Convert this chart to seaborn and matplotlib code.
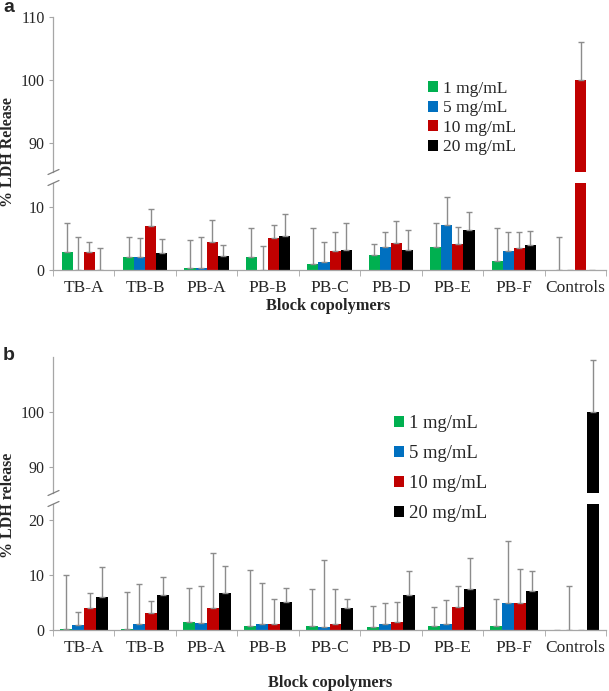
import numpy as np
import pandas as pd
import matplotlib
matplotlib.use("Agg")
import matplotlib.pyplot as plt
from matplotlib.lines import Line2D
import seaborn as sns

categories = ['TB-A', 'TB-B', 'PB-A', 'PB-B', 'PB-C', 'PB-D', 'PB-E', 'PB-F', 'Controls']
concentrations = ['1 mg/mL', '5 mg/mL', '10 mg/mL', '20 mg/mL']
colors = ['#00B050', '#0070C0', '#C00000', '#000000']

# Panel a: means and SD (upward error)
a_mean_1 = [2.8, 2.0, 0.25, 2.05, 0.95, 2.4, 3.7, 1.5, 0.0]
a_sd_1 = [4.7, 3.3, 4.45, 4.65, 5.65, 1.7, 3.8, 5.1, 5.3]
a_mean_5 = [0.05, 2.0, 0.3, 0.05, 1.3, 3.7, 7.2, 3.05, 0.0]
a_sd_5 = [5.25, 3.0, 5.0, 3.75, 3.2, 2.4, 4.4, 2.95, np.nan]
a_mean_10 = [2.8, 7.0, 4.4, 5.05, 3.05, 4.25, 4.05, 3.5, 100.0]
a_sd_10 = [1.7, 2.7, 3.6, 2.15, 3.05, 3.45, 2.85, 2.5, 6.1]
a_mean_20 = [0.05, 2.7, 2.2, 5.4, 3.25, 3.25, 6.4, 3.9, 0.0]
a_sd_20 = [3.45, 2.2, 1.7, 3.5, 4.15, 3.05, 2.8, 2.3, np.nan]

# Panel b
b_mean_1 = [0.2, 0.2, 1.45, 0.65, 0.75, 0.55, 0.75, 0.75, 0.0]
b_sd_1 = [9.8, 6.8, 6.15, 10.35, 6.7, 3.75, 3.4, 4.95, np.nan]
b_mean_5 = [0.85, 1.15, 1.3, 1.15, 0.5, 1.15, 1.05, 4.9, 0.0]
b_sd_5 = [2.35, 7.2, 6.75, 7.35, 12.2, 3.85, 4.45, 11.4, 8.0]
b_mean_10 = [4.0, 3.05, 3.95, 1.05, 1.05, 1.4, 4.15, 4.9, 0.0]
b_sd_10 = [2.8, 2.25, 10.05, 4.55, 6.5, 3.65, 3.85, 6.2, np.nan]
b_mean_20 = [6.0, 6.4, 6.7, 5.05, 3.95, 6.3, 7.45, 7.15, 100.0]
b_sd_20 = [5.5, 3.2, 5.0, 2.55, 1.75, 4.4, 5.65, 3.65, 9.4]


def make_df(means, sds):
    rows = []
    for conc, m, s in zip(concentrations, means, sds):
        for cat, mv, sv in zip(categories, m, s):
            rows.append({'category': cat, 'conc': conc, 'value': mv, 'sd': sv})
    return pd.DataFrame(rows)


df_a = make_df([a_mean_1, a_mean_5, a_mean_10, a_mean_20], [a_sd_1, a_sd_5, a_sd_10, a_sd_20])
df_b = make_df([b_mean_1, b_mean_5, b_mean_10, b_mean_20], [b_sd_1, b_sd_5, b_sd_10, b_sd_20])

sns.set_style('white')
plt.rcParams['font.family'] = ['Liberation Serif', 'DejaVu Serif']

W, H = 609, 691
fig = plt.figure(figsize=(W / 100, H / 100), dpi=100)


def axes_px(x0, x1, ytop, ybot):
    return fig.add_axes([x0 / W, 1 - ybot / H, (x1 - x0) / W, (ybot - ytop) / H])


GRAY = '#a6a6a6'
ERR = '#8c8c8c'


def draw(ax, df, width):
    sns.barplot(data=df, x='category', y='value', hue='conc', order=categories,
                hue_order=concentrations, palette=colors, width=width, errorbar=None,
                saturation=1, linewidth=0, legend=False, ax=ax)
    for cont, conc in zip(ax.containers[:4], concentrations):
        sub = df[df.conc == conc].set_index('category').loc[categories]
        xs = [p.get_x() + p.get_width() / 2 for p in cont.patches]
        ax.errorbar(xs, sub['value'].values, yerr=[np.zeros(len(xs)), sub['sd'].values],
                    fmt='none', ecolor=ERR, elinewidth=1, capsize=2, capthick=1)


def style_top(ax, ylim, yticks):
    ax.set_ylim(*ylim)
    ax.set_xlim(-0.5, 8.5)
    ax.set_yticks(yticks)
    ax.set_xticks([])
    ax.set_xlabel('')
    ax.set_ylabel('')
    for s in ['top', 'right', 'bottom']:
        ax.spines[s].set_visible(False)
    ax.spines['left'].set_color(GRAY)
    ax.spines['left'].set_linewidth(0.9)
    ax.tick_params(axis='y', left=True, length=3, color=GRAY, labelsize=11.5, pad=3)
    ax.set_facecolor('none')


def style_bot(ax, ylim, yticks):
    ax.set_ylim(*ylim)
    ax.set_xlim(-0.5, 8.5)
    ax.set_yticks(yticks)
    ax.set_xlabel('')
    ax.set_ylabel('')
    for s in ['top', 'right']:
        ax.spines[s].set_visible(False)
    for s in ['left', 'bottom']:
        ax.spines[s].set_color(GRAY)
        ax.spines[s].set_linewidth(0.9)
    ax.tick_params(axis='y', left=True, length=3, color=GRAY, labelsize=11.5, pad=3)
    ax.set_xticks(range(len(categories)))
    ax.set_xticklabels(categories)
    ax.set_xticks(np.arange(-0.5, 9, 1), minor=True)
    ax.tick_params(axis='x', which='major', length=0, labelsize=12.5, pad=7)
    ax.tick_params(axis='x', which='minor', bottom=True, length=4, color=GRAY)
    ax.set_facecolor('none')


def slash(ax, top):
    pos = ax.get_position()
    x0 = pos.x0
    y0 = pos.y1 if top else pos.y0
    fig.add_artist(Line2D([x0 - 5 / W, x0 + 6 / W], [y0 - 2.5 / H, y0 + 2.5 / H],
                          color='#808080', lw=0.9))


# Panel a
ax_at = axes_px(53, 606, 17, 172)
ax_ab = axes_px(53, 606, 183, 270)
draw(ax_at, df_a, 0.72)
draw(ax_ab, df_a, 0.72)
style_top(ax_at, (85.4, 110), [90, 100, 110])
style_bot(ax_ab, (0, 13.8), [0, 10])
slash(ax_at, False)
slash(ax_ab, True)
ax_at.legend(ax_at.containers[:4], concentrations, loc='center left',
             bbox_to_anchor=(428 / W, 1 - 118 / H), bbox_transform=fig.transFigure,
             frameon=False, fontsize=12.5, handlelength=0.6, handleheight=0.6,
             handletextpad=0.25, labelspacing=0.2, borderpad=0, borderaxespad=0)

# Panel b
ax_bt = axes_px(53, 606, 357, 493)
ax_bb = axes_px(53, 606, 504, 630)
draw(ax_bt, df_b, 0.78)
draw(ax_bb, df_b, 0.78)
style_top(ax_bt, (85.3, 110), [90, 100])
style_bot(ax_bb, (0, 23), [0, 10, 20])
slash(ax_bt, False)
slash(ax_bb, True)
ax_bt.legend(ax_bt.containers[:4], concentrations, loc='center left',
             bbox_to_anchor=(394 / W, 1 - 468.5 / H), bbox_transform=fig.transFigure,
             frameon=False, fontsize=13.4, handlelength=0.55, handleheight=0.55,
             handletextpad=0.25, labelspacing=0.7, borderpad=0, borderaxespad=0)

# Labels
fig.text(8 / W, 1 - 152.5 / H, '% LDH Release', rotation=90, ha='center', va='center',
         fontsize=11.5, fontweight='bold')
fig.text(8 / W, 1 - 505 / H, '% LDH release', rotation=90, ha='center', va='center',
         fontsize=11.5, fontweight='bold')
fig.text(328 / W, 1 - 306 / H, 'Block copolymers', ha='center', va='center',
         fontsize=11.8, fontweight='bold')
fig.text(330 / W, 1 - 683 / H, 'Block copolymers', ha='center', va='center',
         fontsize=11.8, fontweight='bold')
fig.text(3 / W, 1 - 8 / H, 'a', ha='left', va='center', fontsize=14, fontweight='bold',
         family=['Liberation Sans', 'DejaVu Sans'])
fig.text(3 / W, 1 - 355 / H, 'b', ha='left', va='center', fontsize=14, fontweight='bold',
         family=['Liberation Sans', 'DejaVu Sans'])

fig.savefig('out.png', dpi=100)
